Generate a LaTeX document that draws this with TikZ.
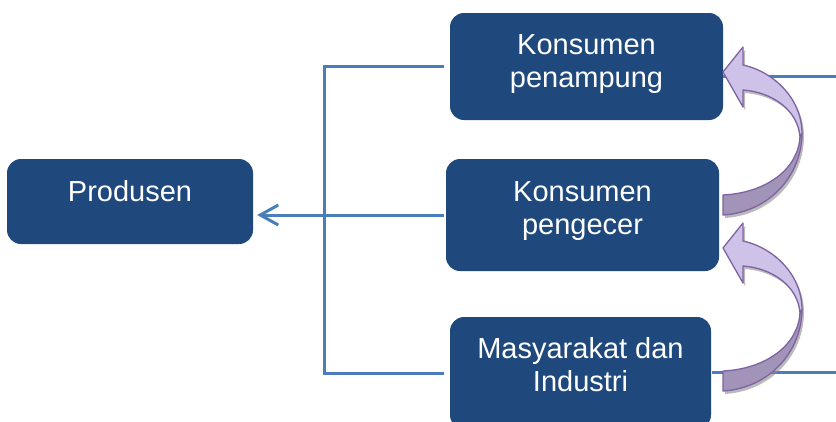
\documentclass[tikz,border=0pt]{standalone}
\usepackage{fontspec}
\setmainfont{Liberation Sans}
\usetikzlibrary{arrows.meta}
\definecolor{boxblue}{HTML}{1F497D}
\definecolor{lineblue}{HTML}{4A7EBB}
\definecolor{arrlight}{HTML}{CFC2E8}
\definecolor{arrdark}{HTML}{A293B8}
\definecolor{arredge}{HTML}{7E62A1}
\begin{document}
\begin{tikzpicture}[x=1pt,y=-1pt,
  box/.style={fill=boxblue, rounded corners=14pt, inner sep=0pt},
  txt/.style={text=white, align=center, inner sep=0pt, font=\fontsize{29}{33}\selectfont},
  conn/.style={draw=lineblue, line width=3pt},
  arrowface/.style={draw=arredge, line width=1.3pt, line join=round},
  shadowface/.style={fill=black!45, opacity=0.6}
]
\useasboundingbox (0,0) rectangle (836,421);
\clip (0,0) rectangle (836,421);

% boxes
\node[box, minimum width=246pt, minimum height=85pt] (prod) at (130,201.5) {};
\node[box, minimum width=273pt, minimum height=107pt] (k1) at (586.5,66.5) {};
\node[box, minimum width=273pt, minimum height=112pt] (k2) at (582.5,215) {};
\node[box, minimum width=261pt, minimum height=112pt] (k3) at (580.5,373) {};

% texts
\node[txt] (tprod) at ([yshift=10pt]prod.center) {Produsen};
\node[txt] (tk1) at ([yshift=2.4pt]k1.center) {Konsumen\\penampung};
\node[txt] (tk2) at ([yshift=4pt]k2.center) {Konsumen\\pengecer};
\node[txt] (tk3) at ([yshift=8pt]k3.center) {Masyarakat dan\\Industri};

% connectors
\coordinate (j) at (324,215);
\coordinate (r1) at (836,76);
\coordinate (r3) at (836,372);
\draw[conn] ([xshift=-6pt]k1.west) -| (j);
\draw[conn] ([xshift=-6pt]k3.west) -| (j);
\draw[conn, -{Straight Barb[length=18pt,width=20pt]}] ([xshift=-2pt]k2.west) -- (j) -- ([xshift=4pt]prod.east |- j);
\draw[conn] (k1.east |- r1) -- (r1);
\draw[conn] ([xshift=1pt]k3.east |- r3) -- (r3);

% curved arrows
\foreach \dy in {0,176}{
  \begin{scope}[shift={(0,\dy)}]
    \fill[shadowface, shift={(2,3)}] (723,72) -- (743,47) -- (743,65)
      .. controls (775,72) and (802,100) .. (802,133)
      .. controls (802,175) and (770,212) .. (723,215) -- (723,195)
      .. controls (765,193) and (798,170) .. (800,137)
      .. controls (798,110) and (772,92) .. (743,90) -- (743,107) -- cycle;
    \filldraw[arrowface, fill=arrdark] (802,133)
      .. controls (802,175) and (770,212) .. (723,215) -- (723,195)
      .. controls (765,193) and (798,170) .. (800,137) -- cycle;
    \filldraw[arrowface, fill=arrlight] (723,72) -- (743,47) -- (743,65)
      .. controls (775,72) and (802,100) .. (802,133) -- (800,137)
      .. controls (798,110) and (772,92) .. (743,90) -- (743,107) -- cycle;
  \end{scope}
}
\end{tikzpicture}
\end{document}
